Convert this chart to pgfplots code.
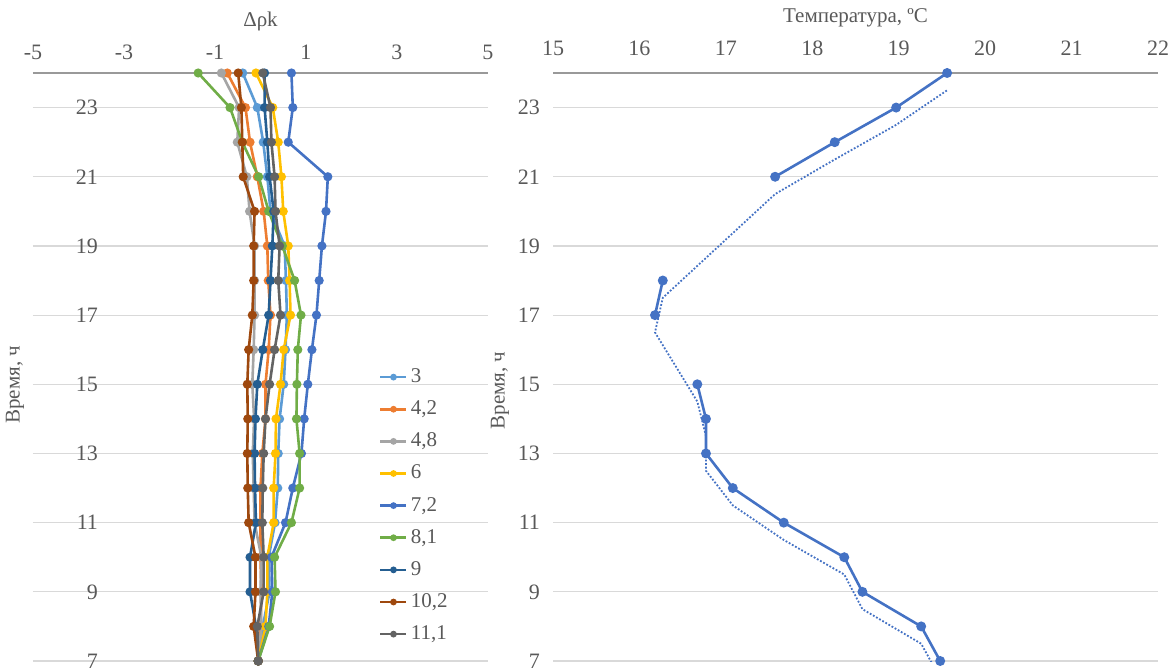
\documentclass[border=0pt]{standalone}
\usepackage{pgfplots}
\pgfplotsset{compat=1.18}
\usepackage{fontspec}
\setmainfont{Liberation Serif}
\definecolor{cA}{HTML}{5B9BD5}
\definecolor{cB}{HTML}{ED7D31}
\definecolor{cC}{HTML}{A5A5A5}
\definecolor{cD}{HTML}{FFC000}
\definecolor{cE}{HTML}{4472C4}
\definecolor{cF}{HTML}{70AD47}
\definecolor{cG}{HTML}{255E91}
\definecolor{cH}{HTML}{9E480E}
\definecolor{cI}{HTML}{636363}
\definecolor{txt}{HTML}{595959}
\definecolor{gridc}{HTML}{D9D9D9}

\pgfplotstableread{
h s3 s42 s48 s6 s72 s81 s9 s102 s111
7  -0.05 -0.05 -0.05 -0.05 -0.05 -0.05 -0.05 -0.05 -0.05
8   0.05  0.00  0.02  0.11  0.18  0.20 -0.10 -0.15 -0.07
9   0.20  0.02  0.00  0.15  0.26  0.33 -0.23 -0.11  0.07
10  0.18  0.00  0.02  0.15  0.24  0.31 -0.23 -0.11  0.07
11  0.32  0.00 -0.13  0.29  0.55  0.68 -0.10 -0.26  0.04
12  0.38  0.00 -0.15  0.29  0.71  0.86 -0.12 -0.28  0.05
13  0.39  0.04 -0.17  0.33  0.90  0.86 -0.13 -0.29  0.07
14  0.42  0.11 -0.14  0.34  0.96  0.79 -0.11 -0.28  0.11
15  0.51  0.11 -0.18  0.44  1.04  0.80 -0.07 -0.29  0.20
16  0.55  0.18 -0.15  0.51  1.13  0.82  0.05 -0.26  0.31
17  0.58  0.22 -0.13  0.66  1.23  0.89  0.18 -0.18  0.44
18  0.56  0.17 -0.13  0.64  1.29  0.75  0.22 -0.15  0.39
19  0.53  0.15 -0.13  0.61  1.35  0.48  0.26 -0.15  0.42
20  0.22  0.07 -0.24  0.50  1.44  0.18  0.29 -0.13  0.33
21  0.15 -0.07 -0.30  0.46  1.48 -0.04  0.20 -0.38  0.31
22  0.06 -0.23 -0.51  0.39  0.61 -0.40  0.15 -0.40  0.24
23 -0.07 -0.33 -0.47  0.27  0.71 -0.67  0.09 -0.42  0.22
24 -0.39 -0.73 -0.86 -0.10  0.68 -1.37  0.09 -0.49  0.05
}\leftdata

\pgfplotstableread{
t h
19.48 7
19.26 8
18.58 9
18.37 10
17.67 11
17.08 12
16.77 13
16.77 14
16.67 15
nan 16
16.18 17
16.27 18
nan 19
nan 20
17.57 21
18.26 22
18.97 23
19.56 24
}\tempdata

\pgfplotstableread{
t h
19.48 6.5
19.26 7.5
18.58 8.5
18.37 9.5
17.67 10.5
17.08 11.5
16.77 12.5
16.77 13.5
16.67 14.5
16.18 16.5
16.27 17.5
17.57 20.5
18.26 21.5
18.97 22.5
19.56 23.5
}\tempdotted

\pgfplotsset{
  common/.style={
    scale only axis, anchor=south west,
    height=294pt, ymin=7, ymax=24, ytick={7,9,...,23},
    axis x line*=top, axis y line*=left,
    x axis line style={draw=black!40, line width=0.6pt},
    y axis line style={draw=none},
    major tick length=0pt,
    ymajorgrids, grid style={draw=gridc, line width=0.6pt},
    tick label style={font=\fontsize{11}{13}\selectfont, text=txt},
    label style={font=\fontsize{10.5}{12}\selectfont, text=txt},
    /pgf/number format/assume math mode=true,
    clip=true,
  },
  ser/.style={color=#1, line width=1.3pt, mark=*, mark size=1.6pt, mark options={solid}},
}

\begin{document}
\begin{tikzpicture}
\path[use as bounding box] (0,0) rectangle (585pt,334pt);
\begin{axis}[common,
  at={(16.5pt,3.5pt)}, width=227.5pt,
  xmin=-5, xmax=5, xtick={-5,-3,-1,1,3,5},
  xticklabel style={yshift=3pt},
  yticklabel style={xshift=36pt},
  xlabel={Δρk},
  xlabel style={at={(axis description cs:0.5,1)}, anchor=center, yshift=26pt},
  ylabel={Время, ч},
  ylabel style={at={(axis description cs:0,0.47)}, anchor=center, yshift=9pt},
  legend cell align=left,
  legend style={at={(axis cs:2.6,15.55)}, anchor=north west, draw=none, fill=none,
    font=\fontsize{10.5}{12}\selectfont, text=txt, row sep=4.6pt, inner sep=0pt,
    nodes={inner sep=1.5pt}},
  legend image code/.code={\draw[mark repeat=2, mark phase=2, mark size=1pt] plot coordinates {(0pt,0pt) (6.5pt,0pt) (13pt,0pt)};},
]
\addplot[ser=cA] table[x=s3, y=h] {\leftdata};
\addlegendentry{3}
\addplot[ser=cB] table[x=s42, y=h] {\leftdata};
\addlegendentry{4,2}
\addplot[ser=cC] table[x=s48, y=h] {\leftdata};
\addlegendentry{4,8}
\addplot[ser=cD] table[x=s6, y=h] {\leftdata};
\addlegendentry{6}
\addplot[ser=cE] table[x=s72, y=h] {\leftdata};
\addlegendentry{7,2}
\addplot[ser=cF] table[x=s81, y=h] {\leftdata};
\addlegendentry{8,1}
\addplot[ser=cG] table[x=s9, y=h] {\leftdata};
\addlegendentry{9}
\addplot[ser=cH] table[x=s102, y=h] {\leftdata};
\addlegendentry{10,2}
\addplot[ser=cI] table[x=s111, y=h] {\leftdata};
\addlegendentry{11,1}
\end{axis}

\begin{axis}[common,
  at={(276.5pt,3.5pt)}, width=302.5pt,
  xmin=15, xmax=22, xtick={15,...,22},
  xticklabel style={yshift=5pt},
  yticklabel style={xshift=-3pt},
  xlabel={Температура, ºC},
  xlabel style={at={(axis description cs:0.5,1)}, anchor=center, yshift=27.5pt},
  ylabel={Время, ч},
  ylabel style={at={(axis description cs:0,0.46)}, anchor=center, yshift=26.5pt},
  unbounded coords=jump,
]
\addplot[color=cE, line width=0.9pt, dash pattern=on 0.9pt off 0.9pt] table[x=t, y=h] {\tempdotted};
\addplot[color=cE, line width=1.3pt, mark=*, mark size=1.8pt] table[x=t, y=h] {\tempdata};
\end{axis}
\end{tikzpicture}
\end{document}
